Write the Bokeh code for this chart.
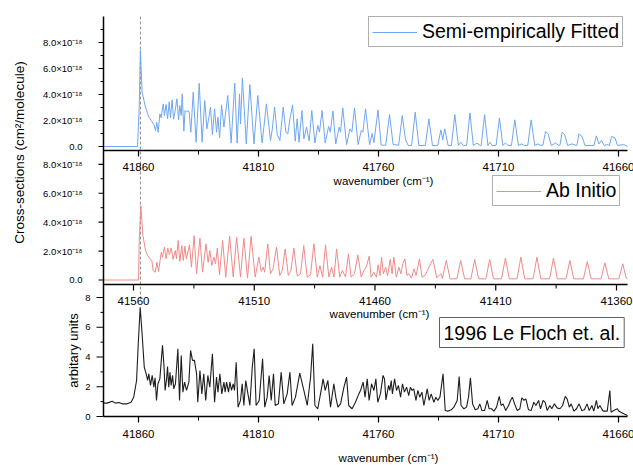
from bokeh.plotting import figure
from bokeh.models import Range1d, Legend, LegendItem, Label
from bokeh.core.properties import value
from bokeh.embed import file_html
from bokeh.resources import INLINE
import math

FONT = "Liberation Sans"

# ---------------- data ----------------
# Panel 1: semi-empirically fitted cross-sections (units of 1e-18 cm^2/molecule)
wn_fit = [41874.6, 41860.4, 41859.7, 41859.2, 41858.5, 41857.1, 41855.7, 41854.7, 41853.6, 41852.9,
          41852.4, 41851.8, 41851.1, 41850.6, 41849.7, 41849.2, 41848.5, 41847.9, 41847.2, 41846.7,
          41846.0, 41845.4, 41844.7, 41844.0, 41843.3, 41842.8, 41842.2, 41841.8, 41841.1, 41840.6,
          41840.0, 41839.4, 41838.9, 41838.2, 41837.2, 41836.0, 41834.7, 41833.5, 41832.4, 41831.5,
          41830.6, 41830.0, 41829.2, 41828.3, 41827.5, 41826.9, 41826.2, 41825.4, 41824.4, 41823.8,
          41822.8, 41821.4, 41819.9, 41818.9, 41817.9, 41817.5, 41816.7, 41815.1, 41813.6, 41811.9,
          41810.3, 41808.5, 41806.7, 41805.0, 41804.3, 41803.3, 41802.2, 41801.1, 41799.7, 41798.6,
          41797.8, 41796.9, 41795.8, 41794.7, 41793.9, 41793.1, 41791.9, 41791.1, 41790.0, 41788.9,
          41787.8, 41786.5, 41785.3, 41784.6, 41783.5, 41782.2, 41780.8, 41780.1, 41779.0, 41777.8,
          41776.4, 41775.8, 41774.9, 41773.3, 41771.9, 41771.1, 41770.0, 41768.5, 41767.2, 41766.5,
          41765.4, 41763.7, 41762.6, 41761.9, 41760.2, 41758.9, 41757.0, 41755.4, 41753.9, 41751.6,
          41750.1, 41748.75, 41747.6, 41746.2, 41744.7, 41743.2, 41740.5, 41739.0, 41737.5, 41735.3,
          41734.0, 41733.2, 41732.4, 41731.0, 41729.6, 41728.2, 41726.7, 41725.7, 41724.7, 41723.3,
          41721.9, 41720.5, 41719.0, 41717.6, 41717.2, 41715.8, 41714.4, 41713.6, 41712.6, 41711.0,
          41709.6, 41708.2, 41707.1, 41706.0, 41704.6, 41703.2, 41701.7, 41700.4, 41699.2, 41697.8,
          41696.4, 41694.9, 41693.5, 41692.3, 41691.5, 41690.4, 41689.3, 41688.0, 41686.25, 41684.8,
          41684.4, 41683.5, 41682.4, 41681.2, 41679.3, 41677.6, 41677.3, 41676.5, 41675.15, 41674.0,
          41670.2, 41669.2, 41668.2, 41667.1, 41666.0, 41664.8, 41663.8, 41662.9, 41661.5, 41660.4,
          41657.8, 41656.2]
xs_fit = [0.0, 0.0, 3.0, 7.4, 4.18, 3.03, 2.26, 2.0, 1.69, 1.23,
          1.87, 1.10, 2.51, 2.2, 3.28, 2.38, 3.23, 2.13, 3.44, 2.2,
          3.59, 2.1, 2.77, 3.67, 2.05, 3.15, 2.38, 4.05, 1.18, 2.77,
          2.64, 2.77, 2.64, 1.10, 4.18, 0.33, 4.87, 0.33, 3.54, 1.36,
          2.31, 3.03, 0.92, 2.9, 1.1, 2.26, 0.67, 3.2, 1.49, 2.44,
          3.92, 0.26, 4.87, 0.26, 4.05, 1.74, 5.28, 0.2, 4.77, 0.2,
          3.92, 0.26, 3.28, 0.46, 1.28, 3.03, 0.92, 0.46, 3.03, 1.1,
          0.97, 2.13, 3.2, 0.41, 2.13, 0.33, 2.77, 0.59, 1.49, 0.41,
          2.77, 0.26, 1.62, 1.1, 2.77, 0.26, 1.54, 1.1, 2.72, 0.2,
          1.49, 1.1, 2.97, 0.15, 1.36, 1.1, 2.97, 0.15, 1.23, 1.1,
          2.9, 0.15, 1.0, 0.3, 2.82, 0.1, 0.1, 2.46, 0.15, 0.1,
          2.38, 0.51, 0.08, 0.08, 2.64, 0.08, 0.08, 2.13, 0.08, 0.08,
          1.28, 0.51, 1.36, 0.08, 0.08, 2.46, 0.08, 0.33, 0.08, 0.08,
          2.59, 0.08, 0.26, 0.08, 0.08, 2.46, 0.08, 0.33, 0.08, 0.08,
          2.2, 0.08, 0.26, 0.08, 0.08, 2.05, 0.08, 0.2, 0.08, 0.08,
          2.05, 0.08, 0.2, 0.08, 0.1, 1.15, 0.97, 0.08, 0.26, 0.08,
          0.1, 1.1, 0.92, 0.08, 0.2, 0.08, 0.1, 0.97, 0.77, 0.08,
          0.08, 0.82, 0.2, 0.46, 0.08, 0.15, 0.08, 0.77, 0.67, 0.08,
          0.15, 0.0]

# Panel 2: ab initio cross-sections (units of 1e-18 cm^2/molecule)
wn_abi = [41572.4, 41557.9, 41557.65, 41556.96, 41556.1, 41555.0, 41554.1, 41553.2, 41552.4, 41551.9,
          41551.0, 41550.3, 41549.65, 41548.5, 41548.0, 41547.2, 41546.5, 41545.8, 41545.1, 41544.4,
          41543.6, 41542.7, 41542.2, 41541.5, 41540.8, 41540.0, 41539.4, 41538.7, 41538.1, 41536.8,
          41536.0, 41534.9, 41533.9, 41532.5, 41531.4, 41530.0, 41529.1, 41528.4, 41527.6, 41526.7,
          41526.0, 41525.3, 41524.4, 41523.1, 41521.8, 41520.2, 41518.7, 41517.3, 41515.7, 41514.3,
          41512.8, 41511.3, 41509.6, 41508.1, 41507.1, 41506.3, 41505.7, 41504.4, 41503.3, 41502.2,
          41500.8, 41499.4, 41498.4, 41497.2, 41495.9, 41494.8, 41493.6, 41492.2, 41490.85, 41489.5,
          41488.1, 41486.7, 41485.3, 41483.9, 41482.8, 41481.7, 41480.5, 41479.1, 41478.0, 41477.0,
          41475.9, 41474.6, 41473.5, 41472.2, 41471.0, 41469.9, 41468.5, 41467.1, 41465.7, 41464.6,
          41463.5, 41462.4, 41461.6, 41460.5, 41459.4, 41458.7, 41457.9, 41457.3, 41456.5, 41455.6,
          41454.8, 41453.7, 41452.9, 41452.2, 41451.2, 41450.1, 41449.3, 41448.5, 41447.6, 41446.8,
          41446.0, 41444.9, 41443.8, 41443.0, 41442.1, 41441.6, 41440.5, 41439.1, 41438.0, 41436.05,
          41434.4, 41432.7, 41432.1, 41430.5, 41428.9, 41426.1, 41424.5, 41422.9, 41420.3, 41418.7,
          41417.1, 41414.1, 41412.5, 41410.9, 41407.6, 41406.0, 41404.4, 41401.2, 41399.6, 41398.0,
          41394.55, 41392.95, 41391.35, 41387.7, 41386.1, 41384.5, 41380.9, 41379.3, 41377.7, 41373.7,
          41372.1, 41370.5, 41366.4, 41364.8, 41363.2, 41359.0, 41357.4, 41356.0, 41355.4]
xs_abi = [0.0, 0.0, 2.6, 5.15, 3.07, 2.04, 1.69, 1.46, 1.35, 0.66,
          0.54, 1.23, 0.59, 1.92, 1.58, 2.27, 1.46, 2.2, 1.74, 2.22,
          1.42, 2.04, 1.46, 2.73, 1.28, 2.38, 1.35, 2.34, 1.46, 2.43,
          0.89, 3.07, 0.43, 2.89, 0.54, 2.5, 1.23, 2.04, 1.0, 1.58,
          1.12, 2.2, 0.36, 2.73, 0.2, 3.03, 0.2, 2.96, 0.2, 2.89,
          0.13, 3.03, 0.2, 1.58, 0.59, 0.89, 0.54, 2.5, 0.43, 0.77,
          2.27, 0.31, 0.66, 2.15, 0.31, 0.66, 2.2, 0.27, 0.43, 2.38,
          0.2, 0.36, 2.5, 0.2, 1.0, 0.2, 2.43, 0.2, 0.89, 0.2,
          2.15, 0.2, 0.66, 0.2, 1.81, 0.2, 0.43, 1.74, 0.2, 0.66,
          0.96, 1.65, 0.2, 0.54, 0.2, 1.05, 0.31, 1.58, 0.43, 0.89,
          0.31, 1.42, 0.43, 1.58, 0.2, 0.89, 0.43, 1.12, 1.46, 0.31,
          0.43, 0.13, 0.77, 0.31, 1.0, 1.46, 0.2, 0.36, 0.77, 1.42,
          0.15, 0.43, 0.1, 1.35, 0.08, 0.08, 1.35, 0.08, 0.08, 1.42,
          0.08, 0.08, 1.42, 0.08, 0.08, 1.51, 0.08, 0.08, 1.58, 0.08,
          0.08, 1.58, 0.08, 0.08, 1.51, 0.08, 0.08, 1.35, 0.08, 0.08,
          1.28, 0.08, 0.08, 1.19, 0.08, 0.08, 1.12, 0.13, 0.08]

# Panel 3: 1996 Le Floch et al. experimental spectrum (arbitrary units)
wn_exp = [41874.6, 41873.1, 41871.0, 41869.6, 41868.2, 41866.8, 41864.7, 41863.1, 41862.0, 41860.8,
          41860.1, 41859.3, 41858.5, 41857.6, 41856.8, 41856.2, 41855.7, 41855.0, 41854.3, 41853.6,
          41853.1, 41852.5, 41851.9, 41851.1, 41850.4, 41850.0, 41849.4, 41848.9, 41848.3, 41847.9,
          41847.4, 41846.9, 41846.4, 41845.8, 41845.3, 41844.6, 41843.6, 41842.9, 41842.2, 41841.5,
          41840.8, 41840.0, 41839.0, 41838.3, 41837.5, 41836.7, 41835.8, 41835.3, 41834.4, 41833.6,
          41832.8, 41832.0, 41831.1, 41830.3, 41829.2, 41828.3, 41827.5, 41826.9, 41826.1, 41825.3,
          41824.4, 41823.9, 41823.3, 41822.5, 41821.9, 41821.25, 41820.55, 41820.0, 41819.3, 41818.5,
          41817.5, 41816.8, 41816.1, 41815.3, 41814.4, 41813.6, 41812.6, 41811.8, 41811.0, 41809.7,
          41808.3, 41807.4, 41806.4, 41805.55, 41804.7, 41803.75, 41803.05, 41801.7, 41800.55, 41799.45,
          41798.05, 41796.9, 41796.0, 41794.6, 41792.8, 41791.1, 41789.7, 41788.3, 41787.4, 41786.5,
          41785.3, 41783.9, 41783.1, 41782.2, 41781.1, 41780.0, 41778.6, 41777.8, 41776.9, 41775.8,
          41774.4, 41773.3, 41772.4, 41771.0, 41769.6, 41768.2, 41767.5, 41766.4, 41765.6, 41764.7,
          41763.9, 41762.9, 41761.9, 41761.1, 41760.3, 41759.2, 41758.1, 41757.5, 41756.9, 41755.8,
          41755.3, 41754.7, 41754.2, 41753.3, 41752.5, 41751.7, 41750.8, 41750.0, 41749.2, 41748.3,
          41747.4, 41746.7, 41746.0, 41745.3, 41744.4, 41743.6, 41742.8, 41741.9, 41741.1, 41739.7,
          41738.9, 41738.05, 41736.9, 41736.1, 41735.3, 41734.4, 41733.1, 41732.2, 41731.1, 41729.7,
          41728.6, 41727.2, 41726.4, 41725.6, 41724.4, 41723.3, 41722.5, 41721.7, 41720.8, 41719.7,
          41718.6, 41717.8, 41716.9, 41715.8, 41714.7, 41713.9, 41712.9, 41711.9, 41710.8, 41709.7,
          41708.9, 41708.1, 41707.0, 41705.8, 41705.0, 41704.2, 41703.3, 41702.2, 41701.1, 41700.3,
          41699.4, 41698.6, 41697.5, 41696.4, 41695.3, 41694.4, 41693.3, 41692.5, 41691.4, 41690.6,
          41689.7, 41688.6, 41687.8, 41686.7, 41685.6, 41684.4, 41683.3, 41682.2, 41681.4, 41680.5,
          41679.7, 41678.6, 41677.5, 41676.4, 41675.3, 41674.2, 41673.1, 41672.2, 41671.1, 41670.3,
          41669.2, 41668.6, 41667.8, 41666.4, 41664.7, 41663.6, 41663.1, 41662.0, 41660.5, 41659.8,
          41657.8, 41656.2]
int_exp = [0.9, 0.9, 1.03, 0.9, 0.94, 0.85, 0.85, 0.96, 1.3, 2.42,
           4.89, 7.35, 5.56, 3.32, 2.87, 2.42, 2.87, 2.09, 2.76, 1.97,
           2.6, 1.08, 2.2, 2.53, 3.99, 4.78, 3.43, 1.75, 2.53, 3.36,
           1.97, 2.98, 2.09, 2.76, 1.86, 2.2, 4.55, 1.08, 4.1, 1.64,
           2.31, 1.75, 2.31, 4.44, 3.77, 3.77, 2.87, 0.96, 3.09, 1.52,
           2.87, 1.08, 2.76, 1.97, 4.22, 0.96, 2.65, 1.64, 2.87, 1.52,
           2.31, 1.64, 2.31, 1.64, 2.31, 1.75, 2.2, 1.75, 3.65, 0.63,
           1.08, 2.2, 0.74, 2.42, 1.52, 0.74, 3.32, 4.55, 0.74, 1.08,
           3.88, 0.63, 1.3, 2.76, 1.08, 2.87, 0.74, 0.85, 2.98, 0.85,
           1.52, 2.98, 0.74, 1.3, 2.91, 1.75, 0.74, 2.65, 4.89, 0.74,
           0.52, 1.75, 2.53, 1.75, 2.42, 0.63, 2.2, 1.3, 0.63, 0.85,
           1.97, 2.65, 0.74, 0.52, 0.96, 1.52, 1.75, 2.31, 1.3, 2.53,
           1.08, 2.2, 1.75, 2.53, 0.96, 1.52, 2.76, 2.53, 1.12, 2.09,
           1.75, 2.42, 1.52, 2.53, 1.75, 2.09, 1.3, 2.2, 1.64, 1.97,
           1.41, 1.97, 1.75, 1.86, 1.08, 1.75, 1.3, 1.64, 0.74, 1.86,
           1.08, 1.52, 0.96, 1.3, 1.08, 1.3, 2.87, 0.4, 0.36, 0.45,
           0.63, 1.08, 2.69, 0.74, 0.52, 0.63, 1.3, 2.6, 0.85, 0.45,
           0.52, 0.85, 0.4, 0.4, 1.08, 0.52, 0.52, 0.36, 0.63, 1.35,
           0.74, 0.85, 0.4, 0.74, 1.08, 1.3, 0.85, 0.4, 0.52, 1.26,
           1.08, 1.19, 0.45, 0.4, 0.96, 0.74, 1.08, 0.52, 1.08, 0.96,
           0.4, 0.74, 0.52, 0.85, 0.58, 0.52, 0.74, 1.35, 1.19, 0.63,
           0.85, 0.36, 0.52, 0.85, 0.4, 0.45, 0.85, 0.4, 0.74, 0.36,
           1.08, 0.52, 0.74, 0.36, 0.36, 1.75, 0.29, 0.4, 0.52, 0.36,
           0.18, 0.07]

BAND_ORIGIN = 41859.2  # dashed marker through the band head

# tick values / labels
x_ticks_main = [41860, 41810, 41760, 41710, 41660]
x_minor_main = [41835, 41785, 41735, 41685]
x_ticks_abi = [41560, 41510, 41460, 41410, 41360]
x_minor_abi = [41535, 41485, 41435, 41385]
xs_ticks = [0, 2, 4, 6, 8]
xs_minor1 = [1, 3, 5, 7, 9]
xs_minor2 = [1, 3, 5, 7]
xs_tick_labels = ["0.0", "2.0×10⁻¹⁸", "4.0×10⁻¹⁸", "6.0×10⁻¹⁸", "8.0×10⁻¹⁸"]
au_ticks = [0, 2, 4, 6, 8]
au_minor = [1, 3, 5, 7]
au_tick_labels = ["0", "2", "4", "6", "8"]

# ---------------- layout (pixels) ----------------
W, H = 633, 465
AX_L, AX_R, AX_T = 103, 627, 16
P1 = dict(zero=146.0, ppu=13.0, axis=150, top=16)      # y px of value 0, px per unit, x-axis line
P2 = dict(zero=279.5, ppu=14.46, axis=284, top=150)
P3 = dict(zero=416.0, ppu=14.875, axis=416, top=284)
X1 = dict(ref=41860, px=138, ppc=2.4)
X2 = dict(ref=41560, px=133, ppc=2.415)


def yrange(s):
    return Range1d(start=(s["zero"] - H) / s["ppu"], end=s["zero"] / s["ppu"])


def xrange_(s):
    return Range1d(start=s["ref"] + s["px"] / s["ppc"], end=s["ref"] - (W - s["px"]) / s["ppc"])


p = figure(width=W, height=H, x_range=xrange_(X1), y_range=Range1d(H, 0),
           x_axis_type=None, y_axis_type=None, output_backend="svg", toolbar_location=None,
           min_border=0)
p.outline_line_color = None
p.background_fill_color = "white"
p.border_fill_color = "white"
p.extra_x_ranges = {"abx": xrange_(X2), "pxx": Range1d(0, W)}
p.extra_y_ranges = {"p1": yrange(P1), "p2": yrange(P2), "p3": yrange(P3)}

# dashed marker
p.segment(x0=[BAND_ORIGIN], x1=[BAND_ORIGIN], y0=[AX_T], y1=[300],
          line_color="#8a8a8a", line_width=1, line_dash="3 2")

r1 = p.line(wn_fit, xs_fit, y_range_name="p1", line_color="#6fa6f0", line_width=1)
r2 = p.line(wn_abi, xs_abi, x_range_name="abx", y_range_name="p2", line_color="#f08a8a", line_width=1)
r3 = p.line(wn_exp, int_exp, y_range_name="p3", line_color="#1e1e1e", line_width=1.1)

AXC = "black"
TXT = dict(text_font=value(FONT), text_color="black")

# ---------------- left axis (one line shared by the three panels) ----------------
p.segment(x0=[AX_L], x1=[AX_L], y0=[AX_T], y1=[P3["axis"]], x_range_name="pxx",
          line_color=AXC, line_width=1.5)
for rname, maj, mnr, labs, lab_right, tl in (("p1", xs_ticks, xs_minor1, xs_tick_labels, 82, 5),
                                             ("p2", xs_ticks, xs_minor2, xs_tick_labels, 82, 5),
                                             ("p3", au_ticks, au_minor, au_tick_labels, 90, 7)):
    n, m = len(maj), len(mnr)
    p.segment(x0=[AX_L - tl] * n, x1=[AX_L] * n, y0=maj, y1=maj, x_range_name="pxx",
              y_range_name=rname, line_color=AXC, line_width=1.2)
    p.segment(x0=[AX_L - 3] * m, x1=[AX_L] * m, y0=mnr, y1=mnr, x_range_name="pxx",
              y_range_name=rname, line_color=AXC, line_width=1)
    p.text(x=[lab_right] * n, y=maj, text=labs, x_range_name="pxx", y_range_name=rname,
           text_align="right", text_baseline="middle", text_font_size="9.5px", **TXT)

# ---------------- x axes of the three panels ----------------
for s, maj, mnr, rng, lab_y in ((P1, x_ticks_main, x_minor_main, "default", 166),
                                (P2, x_ticks_abi, x_minor_abi, "abx", 300),
                                (P3, x_ticks_main, x_minor_main, "default", 433)):
    ay = s["axis"]
    n, m = len(maj), len(mnr)
    p.segment(x0=[AX_L], x1=[AX_R], y0=[ay], y1=[ay], x_range_name="pxx",
              line_color=AXC, line_width=1.5)
    p.segment(x0=maj, x1=maj, y0=[ay] * n, y1=[ay + 6] * n, x_range_name=rng,
              line_color=AXC, line_width=1.2)
    p.segment(x0=mnr, x1=mnr, y0=[ay] * m, y1=[ay + 4] * m, x_range_name=rng,
              line_color=AXC, line_width=1)
    p.text(x=maj, y=[lab_y] * n, text=[str(t) for t in maj], x_range_name=rng,
           text_align="center", text_baseline="middle", text_font_size="11.5px", **TXT)


# ---------------- titles ----------------
def lbl(text, cx, cy, size, angle=0.0):
    p.add_layout(Label(x=cx, y=H - cy, x_units="screen", y_units="screen", text=text,
                       angle=angle, text_align="center", text_baseline="middle",
                       text_font=FONT, text_font_size=size, text_color="black"))


lbl("wavenumber (cm⁻¹)", 383, 180, "11.5px")
lbl("wavenumber (cm⁻¹)", 379, 313, "11.5px")
lbl("wavenumber (cm⁻¹)", 388, 457, "11.5px")
lbl("Cross-sections (cm²/molecule)", 19, 152, "13.5px", math.pi / 2)
lbl("arbitary units", 73, 350, "13px", math.pi / 2)

# ---------------- legends ----------------
for r, text, (lx, by) in ((r1, "Semi-empirically Fitted", (368, 47)), (r2, "Ab Initio", (492, 206))):
    lg = Legend(items=[LegendItem(label=text, renderers=[r])], location=(lx, H - by))
    lg.label_text_font = FONT
    lg.label_text_font_size = "19.5px"
    lg.label_text_color = "black"
    lg.glyph_width = 45
    lg.glyph_height = 20
    lg.label_height = 20
    lg.label_standoff = 5
    lg.padding = 3
    lg.margin = 0
    lg.spacing = 0
    lg.border_line_color = "#606060"
    lg.border_line_width = 1
    lg.background_fill_color = "white"
    lg.background_fill_alpha = 1
    p.add_layout(lg)

p.add_layout(Label(x=439, y=H - 332, x_units="screen", y_units="screen",
                   text="1996 Le Floch et. al.", text_align="left", text_baseline="middle",
                   text_font=FONT, text_font_size="19.5px", text_color="black",
                   border_line_color="#606060", border_line_width=1,
                   background_fill_color="white", padding=4))

open("out.html", "w").write(file_html(p, INLINE))
